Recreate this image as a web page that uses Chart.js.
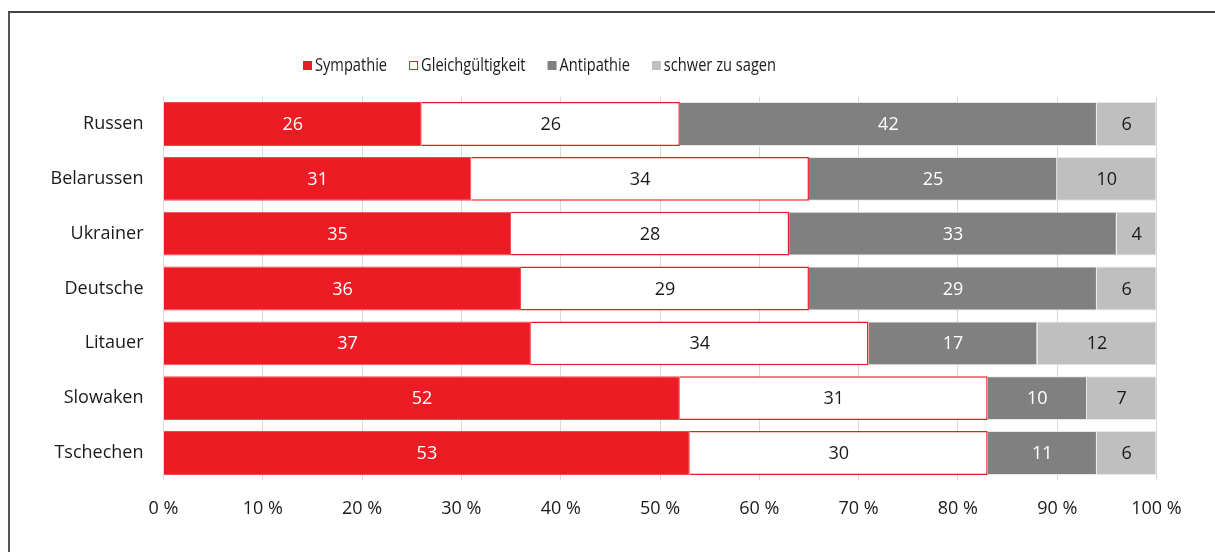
<!DOCTYPE html>
<html>
<head>
<meta charset="utf-8">
<script src="https://cdn.jsdelivr.net/npm/chart.js@4"></script>
<style>
  html, body { margin: 0; padding: 0; background: #fff; }
  #wrap { position: relative; width: 1215px; height: 552px; overflow: hidden; }
  #frame {
    position: absolute; left: 8px; top: 11px; width: 1300px; height: 600px;
    border-left: 2px solid #555; border-top: 2px solid #444; pointer-events: none;
  }
</style>
</head>
<body>
<div id="wrap">
  <canvas id="chart" width="1215" height="552"></canvas>
  <div id="frame"></div>
</div>
<script>
const categories = ["Russen", "Belarussen", "Ukrainer", "Deutsche", "Litauer", "Slowaken", "Tschechen"];
const sympathie = [26, 31, 35, 36, 37, 52, 53];
const gleichgueltigkeit = [26, 34, 28, 29, 34, 31, 30];
const antipathie = [42, 25, 33, 29, 17, 10, 11];
const schwerZuSagen = [6, 10, 4, 6, 12, 7, 6];

const FONT = "'Open Sans', 'Noto Sans', sans-serif";

const series = [
  { label: "Sympathie", data: sympathie, bg: "#ed1c24", border: "#f0494f", text: "#fff" },
  { label: "Gleichgültigkeit", data: gleichgueltigkeit, bg: "#ffffff", border: "#ed1c24", text: "#1a1a1a" },
  { label: "Antipathie", data: antipathie, bg: "#808080", border: "#e6e6e6", text: "#fff" },
  { label: "schwer zu sagen", data: schwerZuSagen, bg: "#bfbfbf", border: "#e6e6e6", text: "#1a1a1a" },
];

// values written in the middle of each segment
const valueLabels = {
  id: "valueLabels",
  afterDatasetsDraw(chart) {
    const { ctx } = chart;
    ctx.save();
    ctx.font = `18px ${FONT}`;
    ctx.textAlign = "center";
    ctx.textBaseline = "middle";
    chart.data.datasets.forEach((ds, i) => {
      chart.getDatasetMeta(i).data.forEach((bar, j) => {
        const p = bar.getCenterPoint();
        ctx.fillStyle = series[i].text;
        ctx.fillText(String(ds.data[j]), p.x, p.y + 1);
      });
    });
    ctx.restore();
  },
};

// legend row drawn by hand (condensed type, off-centre like the original)
const legendRow = {
  id: "legendRow",
  afterDraw(chart) {
    const { ctx } = chart;
    const squeeze = 0.77;
    ctx.save();
    ctx.font = `19px ${FONT}`;
    ctx.textBaseline = "middle";
    let x = 303;
    const y = 65.5;
    series.forEach((s) => {
      ctx.fillStyle = s.bg;
      ctx.fillRect(x, y - 4.5, 9, 9);
      if (s.bg === "#ffffff") {
        ctx.strokeStyle = s.border;
        ctx.lineWidth = 1;
        ctx.strokeRect(x + 0.5, y - 4, 8, 8);
      }
      const tx = x + 12;
      ctx.save();
      ctx.translate(tx, y);
      ctx.scale(squeeze, 1);
      ctx.fillStyle = "#1a1a1a";
      ctx.fillText(s.label, 0, 0);
      ctx.restore();
      x = tx + ctx.measureText(s.label).width * squeeze + 22;
    });
    ctx.restore();
  },
};

new Chart(document.getElementById("chart"), {
  type: "bar",
  data: {
    labels: categories,
    datasets: series.map((s) => ({
      label: s.label,
      data: s.data,
      backgroundColor: s.bg,
      borderColor: s.border,
      borderWidth: s.bg === "#ffffff" ? 1.5 : 1,
      categoryPercentage: 1,
      barPercentage: 0.8,
    })),
  },
  options: {
    indexAxis: "y",
    responsive: false,
    animation: false,
    layout: { padding: { top: 96.6, right: 58.5, left: 0, bottom: 0 } },
    plugins: { legend: { display: false }, tooltip: { enabled: false } },
    scales: {
      x: {
        stacked: true,
        min: 0,
        max: 100,
        border: { display: false },
        grid: { color: "#d9d9d9", lineWidth: 1, drawTicks: false },
        ticks: {
          stepSize: 10,
          padding: 18,
          color: "#1a1a1a",
          font: { family: FONT, size: 18 },
          callback: (v) => v + " %",
        },
        afterFit: (scale) => { scale.height = 552 - 480.4; },
      },
      y: {
        stacked: true,
        border: { display: false },
        grid: { display: false, drawTicks: false },
        ticks: {
          padding: 20,
          color: "#1a1a1a",
          font: { family: FONT, size: 18 },
        },
        afterFit: (scale) => { scale.width = 163.5; },
      },
    },
  },
  plugins: [valueLabels, legendRow],
});
</script>
</body>
</html>
